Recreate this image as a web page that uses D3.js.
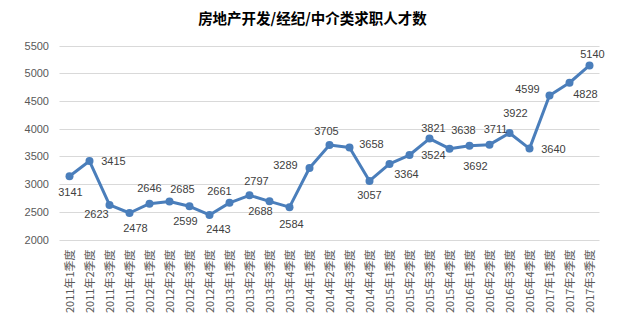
<!DOCTYPE html>
<html>
<head>
<meta charset="utf-8">
<script src="https://cdn.jsdelivr.net/npm/d3@7"></script>
<style>
  html, body { margin: 0; padding: 0; background: #fff; }
  svg { display: block; }
</style>
</head>
<body>
<svg id="chart" width="624" height="329"></svg>
<script>
// Quarterly counts of job seekers in real estate development / brokerage / agency
const chartTitle = "房地产开发/经纪/中介类求职人才数";
const quarters = [
  "2011年1季度", "2011年2季度", "2011年3季度", "2011年4季度",
  "2012年1季度", "2012年2季度", "2012年3季度", "2012年4季度",
  "2013年1季度", "2013年2季度", "2013年3季度", "2013年4季度",
  "2014年1季度", "2014年2季度", "2014年3季度", "2014年4季度",
  "2015年1季度", "2015年2季度", "2015年3季度", "2015年4季度",
  "2016年1季度", "2016年2季度", "2016年3季度", "2016年4季度",
  "2017年1季度", "2017年2季度", "2017年3季度"
];
const seekers = [
  3141, 3415, 2623, 2478,
  2646, 2685, 2599, 2443,
  2661, 2797, 2688, 2584,
  3289, 3705, 3658, 3057,
  3364, 3524, 3821, 3638,
  3692, 3711, 3922, 3640,
  4599, 4828, 5140
];
const yTicks = [2000, 2500, 3000, 3500, 4000, 4500, 5000, 5500];

// Offset of each value label from its point (px), chosen so labels do not collide with the line
const labelOffsets = [
  [1, 16], [24, 0], [-13, 9], [6, 15],
  [0, -16], [13, -12], [-4, 15], [9, 14],
  [-10, -12], [7, -14], [-9, 10], [2, 17],
  [-24, -3], [-3, -14], [22, -4], [0, 14],
  [17, 10], [24, 0], [4, -11], [14, -19],
  [6, 20], [6, -16], [6, -20], [24, 0],
  [-22, -6], [16, 11], [3, -11]
];

const svg = d3.select("#chart");
const font = "'Liberation Sans', Arial, sans-serif";

const x = d3.scaleBand().domain(quarters).range([59.5, 599.5]).padding(0);
const y = d3.scaleLinear().domain([2000, 5500]).range([239.5, 45.5]);
const cx = d => x(d) + x.bandwidth() / 2;

// Title
svg.append("text")
  .attr("x", 312.5).attr("y", 24)
  .attr("text-anchor", "middle")
  .attr("font-family", "'Noto Sans CJK SC', sans-serif")
  .attr("font-size", 14.5).attr("font-weight", "bold")
  .attr("fill", "#000")
  .text(chartTitle);

// Horizontal gridlines
svg.append("g")
  .selectAll("line").data(yTicks).join("line")
  .attr("x1", 59.5).attr("x2", 599.5)
  .attr("y1", d => Math.round(y(d)) + 0.5).attr("y2", d => Math.round(y(d)) + 0.5)
  .attr("stroke", "#d9d9d9").attr("stroke-width", 1);

// Y axis labels
const yAxis = d3.axisLeft(y).tickValues(yTicks).tickFormat(d3.format("d")).tickSize(0).tickPadding(0);
const gy = svg.append("g").attr("transform", "translate(49,0)").call(yAxis);
gy.select(".domain").remove();
gy.selectAll("text")
  .attr("font-family", font).attr("font-size", 11).attr("fill", "#595959");

// X axis labels, rotated vertically
const xAxis = d3.axisBottom(x).tickSize(0).tickPadding(0);
const gx = svg.append("g").attr("transform", "translate(0,239.5)").call(xAxis);
gx.select(".domain").remove();
gx.selectAll("text")
  .attr("font-family", "'Noto Sans CJK SC', sans-serif").attr("font-size", 11).attr("fill", "#595959")
  .attr("text-anchor", "end")
  .attr("dy", null)
  .attr("transform", "translate(4,10) rotate(-90)");

// Line
const line = d3.line()
  .x((d, i) => cx(quarters[i]))
  .y(d => y(d));

svg.append("path")
  .datum(seekers)
  .attr("d", line)
  .attr("fill", "none")
  .attr("stroke", "#4a7ebb")
  .attr("stroke-width", 3)
  .attr("stroke-linejoin", "round");

// Markers
svg.append("g")
  .selectAll("circle").data(seekers).join("circle")
  .attr("cx", (d, i) => cx(quarters[i]))
  .attr("cy", d => y(d))
  .attr("r", 4)
  .attr("fill", "#4a7ebb");

// Value labels
svg.append("g")
  .selectAll("text").data(seekers).join("text")
  .attr("x", (d, i) => cx(quarters[i]) + labelOffsets[i][0])
  .attr("y", (d, i) => y(d) + labelOffsets[i][1])
  .attr("dy", "0.36em")
  .attr("text-anchor", "middle")
  .attr("font-family", font).attr("font-size", 11)
  .attr("fill", "#404040")
  .text(d => d);
</script>
</body>
</html>
